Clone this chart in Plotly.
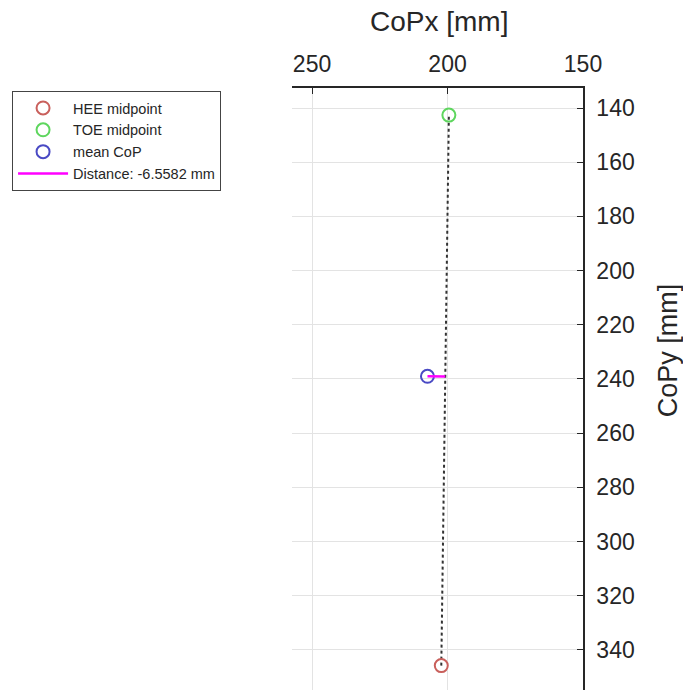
import numpy as np
import plotly.graph_objects as go

# Foot landmarks and centre of pressure (CoPx, CoPy in mm)
hee_midpoint = [202.3, 345.8]
toe_midpoint = [199.5, 142.6]
mean_cop = [207.4, 239.0]
distance_mm = -6.5582

x_ticks = [150, 200, 250]
y_ticks = [140, 160, 180, 200, 220, 240, 260, 280, 300, 320, 340]
x_range = [257.4, 150]
y_range = [354.8, 132.6]

# Foot of the perpendicular from the mean CoP onto the heel-toe line
h = np.array(hee_midpoint)
t = np.array(toe_midpoint)
p = np.array(mean_cop)
d = (t - h) / np.linalg.norm(t - h)
foot = h + np.dot(p - h, d) * d
normal = (p - foot) / np.linalg.norm(p - foot)
dist_end = p - abs(distance_mm) * normal

FONT = "Liberation Sans, Arial, Helvetica, sans-serif"
TXT = "#262626"

fig = go.Figure()

# Heel-to-toe axis (dotted)
fig.add_trace(go.Scatter(
    x=[hee_midpoint[0], toe_midpoint[0]], y=[hee_midpoint[1], toe_midpoint[1]],
    mode="lines", line=dict(color="#333333", width=2, dash="dot"),
    showlegend=False, hoverinfo="skip"))

marker_style = dict(symbol="circle-open", size=13, line=dict(width=2))

fig.add_trace(go.Scatter(
    x=[hee_midpoint[0]], y=[hee_midpoint[1]], mode="markers",
    name="HEE midpoint", marker=dict(color="#c9605c", **marker_style)))
fig.add_trace(go.Scatter(
    x=[toe_midpoint[0]], y=[toe_midpoint[1]], mode="markers",
    name="TOE midpoint", marker=dict(color="#5ed65e", **marker_style)))
fig.add_trace(go.Scatter(
    x=[mean_cop[0]], y=[mean_cop[1]], mode="markers",
    name="mean CoP", marker=dict(color="#4a4ac4", **marker_style)))
fig.add_trace(go.Scatter(
    x=[mean_cop[0], dist_end[0]], y=[mean_cop[1], dist_end[1]], mode="lines",
    name=f"Distance: {distance_mm:.4f} mm",
    line=dict(color="#ff00ff", width=2.5)))

fig.update_layout(
    width=683, height=697,
    margin=dict(l=292, r=100, t=88, b=7),
    paper_bgcolor="white", plot_bgcolor="white",
    font=dict(family=FONT, color=TXT),
    xaxis=dict(
        side="top", range=x_range, tickvals=x_ticks,
        showgrid=True, gridcolor="#e3e3e3", gridwidth=1, zeroline=False,
        showline=True, linecolor="#262626", linewidth=1.5,
        ticks="inside", ticklen=6, tickcolor="#262626",
        ticklabelstandoff=5,
        tickfont=dict(size=23, color=TXT)),
    yaxis=dict(
        side="right", range=y_range, tickvals=y_ticks,
        showgrid=True, gridcolor="#e3e3e3", gridwidth=1, zeroline=False,
        showline=True, linecolor="#262626", linewidth=1.5,
        ticks="inside", ticklen=6, tickcolor="#262626",
        ticklabelstandoff=7,
        tickfont=dict(size=23, color=TXT)),
    legend=dict(
        x=-0.962, y=0.995, xanchor="left", yanchor="top",
        bordercolor="#444444", borderwidth=1, bgcolor="white",
        font=dict(size=14.5, color=TXT), tracegroupgap=0, itemwidth=50),
    annotations=[
        dict(text="CoPx [mm]", xref="paper", yref="paper",
             x=0.505, y=1.11, xanchor="center", yanchor="middle",
             showarrow=False, font=dict(size=28, color=TXT)),
        dict(text="CoPy [mm]", xref="paper", yref="paper",
             x=1.29, y=0.565, xanchor="center", yanchor="middle",
             textangle=-90, showarrow=False, font=dict(size=27, color=TXT)),
    ],
)

fig.write_html("out.html")
